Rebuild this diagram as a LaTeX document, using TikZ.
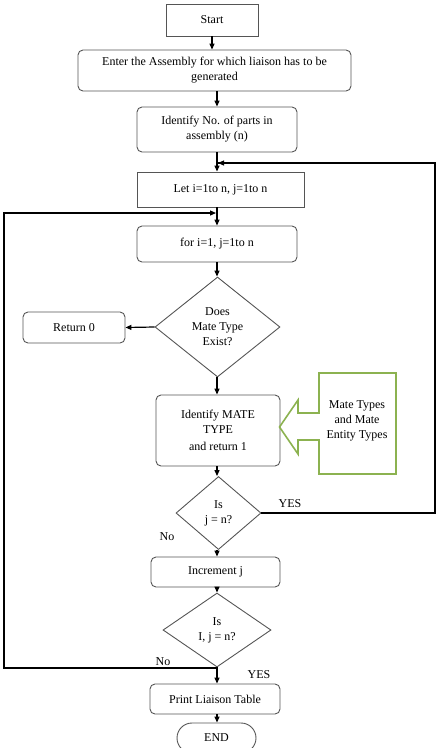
\documentclass[tikz,border=0pt]{standalone}
\usepackage{fontspec}
\setmainfont{Liberation Serif}
\usetikzlibrary{shapes.geometric,shapes.misc,arrows.meta,calc}
\definecolor{boxgray}{RGB}{85,85,85}
\definecolor{leafgreen}{RGB}{140,178,80}
\begin{document}
\begin{tikzpicture}[x=1pt,y=-1pt,
  font=\fontsize{12}{15}\selectfont,
  base/.style={draw=boxgray,line width=0.9pt,align=center,inner sep=1pt},
  sqbox/.style={base,rectangle},
  rbox/.style={base,rectangle,rounded corners=5pt},
  dec/.style={base,diamond,inner sep=0pt},
  term/.style={base,rounded rectangle},
  flow/.style={line width=1.2pt,-{Triangle[length=6pt,width=5pt]}},
  plain/.style={line width=1.2pt},
  lbl/.style={inner sep=0pt}]
\useasboundingbox (0,0) rectangle (440,748);
\coordinate (ax) at (217,0);
\node[sqbox,minimum width=92pt,minimum height=32pt] (start) at (212,20) {Start};
\node[rbox,minimum width=273pt,minimum height=41pt] (enter) at (214.5,70.5) {Enter the Assembly for which liaison has to be\\generated};
\node[rbox,minimum width=160pt,minimum height=45pt] (ident) at (217,129.5) {Identify No. of parts in\\assembly (n)};
\node[sqbox,minimum width=167pt,minimum height=35pt] (let) at (220.5,189.5) {Let i=1to n, j=1to n};
\node[rbox,minimum width=160pt,minimum height=36pt] (for) at (217,244) {for i=1, j=1to n};
\node[dec,minimum width=125pt,minimum height=100pt] (d1) at (217.5,327) {Does\\Mate Type\\Exist?};
\node[rbox,minimum width=102pt,minimum height=31pt] (ret) at (74,327.5) {Return 0};
\node[rbox,minimum width=124pt,minimum height=71pt] (mate) at (218,430.5) {Identify MATE\\TYPE\\[2pt]and return 1};
\node[dec,minimum width=85pt,minimum height=73pt] (d2) at (218.5,513) {Is\\j = n?};
\node[rbox,minimum width=129pt,minimum height=30pt] (inc) at (215.5,572) {Increment j};
\node[dec,minimum width=108pt,minimum height=74pt] (d3) at (217,630) {Is\\I, j = n?};
\node[rbox,minimum width=130pt,minimum height=30pt] (print) at (215,699) {Print Liaison Table};
\node[term,minimum width=81pt,minimum height=30pt] (end) at (216.5,738) {END};
% green input arrow box
\draw[leafgreen,line width=1.6pt,line join=miter]
  (319,373) -- (396,373) -- (396,474) -- (319,474) -- (319,440) -- (298,440) -- (298,454)
  -- (279.5,427) -- (298,400) -- (298,413) -- (319,413) -- cycle;
\node[lbl,align=center] (src) at (357,421) {Mate Types\\and Mate\\Entity Types};
% main flow
\draw[flow] (start.south) -- (start.south |- enter.north);
\draw[flow] (enter.south -| ax) -- (ident.north -| ax);
\draw[flow] (ident.south -| ax) -- (let.north -| ax);
\draw[flow] (let.south -| ax) -- (for.north -| ax);
\draw[flow] (for.south -| ax) -- (d1.north -| ax);
\draw[flow] (d1.west) -- (ret.east);
\draw[flow] (d1.south -| ax) -- (mate.north -| ax);
\draw[flow] (mate.south -| ax) -- (d2.north -| ax);
\draw[flow] (d2.south -| ax) -- (inc.north -| ax);
\draw[flow] (inc.south -| ax) -- (d3.north -| ax);
\draw[flow] (d3.south -| ax) -- (print.north -| ax);
\draw[flow] (print.south -| ax) -- (end.north -| ax);
% loops
\coordinate (yesR) at (435,513);
\coordinate (yesT) at (435,163);
\coordinate (yesE) at (218,163);
\draw[plain] (d2.east) -- (yesR) -- (yesT) -- (yesE);
\draw[line width=1.2pt,-{Triangle[length=6pt,width=5pt]}] ($(yesE)+(8,0)$) -- (yesE);
\coordinate (noB) at (217,668);
\coordinate (noL) at (4,668);
\coordinate (noT) at (4,213);
\coordinate (noE) at (216,213);
\draw[flow] (noB) -- (noL) -- (noT) -- (noE);
% labels
\node[lbl] (yes1) at (290,504) {YES};
\node[lbl] (no1) at (167,537) {No};
\node[lbl] (no2) at (163,662) {No};
\node[lbl] (yes2) at (259,675) {YES};
\end{tikzpicture}
\end{document}
